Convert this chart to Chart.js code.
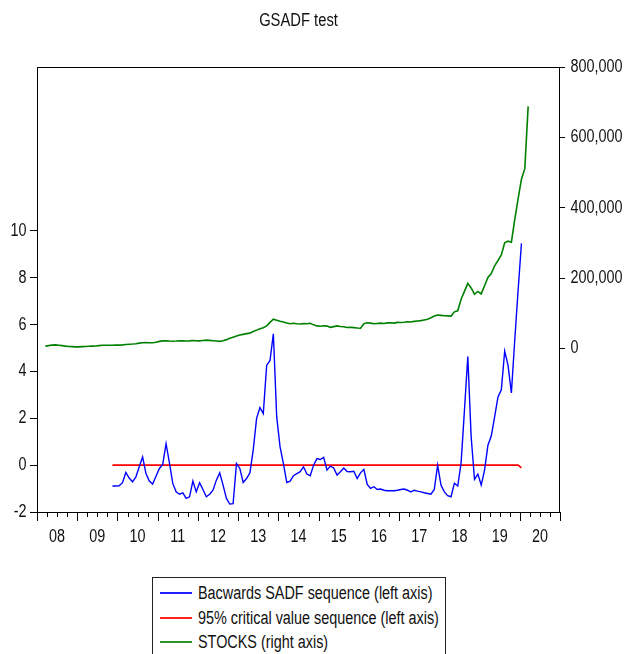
<!DOCTYPE html>
<html lang="en">
<head>
    <meta charset="UTF-8">
    <title>GSADF test</title>
    <script src="https://cdn.jsdelivr.net/npm/chart.js"></script>
</head>
<style>
  body{
    margin: 0;
    background: #fff;
  }
  .wrap{
    position: relative;
    width: 624px;
    height: 654px;
    overflow: hidden;
    font-family: "Liberation Sans", Arial, sans-serif;
    color: #111;
  }
  .titulo{
    position: absolute;
    top: 10px;
    left: 0;
    width: 597px;
    text-align: center;
    font-size: 18px;
    transform: scaleX(0.82);
  }
  .legenda{
    position: absolute;
    left: 152px;
    top: 577px;
    width: 292px;
    height: 120px;
    border: 1px solid #222;
    background: #fff;
    font-size: 18px;
  }
  .item{
    position: absolute;
    left: 0;
    height: 24.5px;
    line-height: 24.5px;
    white-space: nowrap;
  }
  .item span{
    position: absolute;
    left: 7px;
    top: 11px;
    width: 32px;
    height: 2px;
  }
  .item b{
    font-weight: normal;
    position: absolute;
    left: 45px;
    transform: scaleX(0.8);
    transform-origin: left center;
  }
</style>
<body>
  <div class="wrap">
    <canvas id="grafico" width="624" height="654"></canvas>
    <div class="titulo">GSADF test</div>
    <div class="legenda">
      <div class="item" style="top:3px"><span style="background:#2020ff"></span><b>Bacwards SADF sequence (left axis)</b></div>
      <div class="item" style="top:27.5px"><span style="background:#ff2020"></span><b>95% critical value sequence (left axis)</b></div>
      <div class="item" style="top:52px"><span style="background:#2a942a"></span><b>STOCKS (right axis)</b></div>
    </div>
  </div>

<script>
    // monthly data, first observation given as [year, month]
    const sadfStart = [2009, 11];
    const stocksStart = [2008, 3];

    const sadf = [
      -0.89, -0.89,
      -0.88, -0.75, -0.31, -0.55, -0.71, -0.50, -0.07, 0.35, -0.36, -0.68, -0.81, -0.47,
      -0.14, 0.03, 0.92, 0.10, -0.78, -1.14, -1.24, -1.18, -1.42, -1.35, -0.68, -1.14,
      -0.75, -1.04, -1.35, -1.24, -1.07, -0.64, -0.33, -0.85, -1.42, -1.66, -1.64, 0.07,
      -0.14, -0.74, -0.57, -0.33, 0.65, 2.00, 2.46, 2.20, 4.26, 4.47, 5.61, 2.06,
      0.78, 0.07, -0.74, -0.68, -0.45, -0.36, -0.28, -0.07, -0.38, -0.45, 0.00, 0.28,
      0.24, 0.33, -0.21, -0.04, -0.12, -0.42, -0.28, -0.12, -0.27, -0.28, -0.26, -0.57,
      -0.33, -0.18, -0.82, -0.99, -0.92, -1.04, -1.02, -1.07, -1.09, -1.09, -1.09, -1.07,
      -1.04, -1.02, -1.07, -1.14, -1.07, -1.11, -1.14, -1.18, -1.21, -1.24, -1.04, 0.00,
      -0.85, -1.14, -1.30, -1.35, -0.77, -0.89, 0.10, 2.34, 4.64, 1.21, -0.61, -0.38,
      -0.85, -0.21, 0.85, 1.24, 2.06, 2.91, 3.22, 4.87, 4.26, 3.08, 5.33, 7.46,
      9.47
    ];

    const critical = [
      0.00, 0.00,
      0.00, 0.00, 0.00, 0.00, 0.00, 0.00, 0.00, 0.00, 0.00, 0.00, 0.00, 0.00,
      0.00, 0.00, 0.00, 0.00, 0.00, 0.00, 0.00, 0.00, 0.00, 0.00, 0.00, 0.00,
      0.00, 0.00, 0.00, 0.00, 0.00, 0.00, 0.00, 0.00, 0.00, 0.00, 0.00, 0.00,
      0.00, 0.00, 0.00, 0.00, 0.00, 0.00, 0.00, 0.00, 0.00, 0.00, 0.00, 0.00,
      0.00, 0.00, 0.00, 0.00, 0.00, 0.00, 0.00, 0.00, 0.00, 0.00, 0.00, 0.00,
      0.00, 0.00, 0.00, 0.00, 0.00, 0.00, 0.00, 0.00, 0.00, 0.00, 0.00, 0.00,
      0.00, 0.00, 0.00, 0.00, 0.00, 0.00, 0.00, 0.00, 0.00, 0.00, 0.00, 0.00,
      0.00, 0.00, 0.00, 0.00, 0.00, 0.00, 0.00, 0.00, 0.00, 0.00, 0.00, 0.00,
      0.00, 0.00, 0.00, 0.00, 0.00, 0.00, 0.00, 0.00, 0.00, 0.00, 0.00, 0.00,
      0.00, 0.00, 0.00, 0.00, 0.00, 0.00, 0.00, 0.00, 0.00, 0.00, 0.00, 0.00,
      -0.12
    ];

    const stocks = [
      6500, 8000, 9500, 10000, 9000, 8000, 6500, 5500, 5000, 4500,
      4500, 5000, 5500, 6000, 6500, 7000, 8000, 9000, 9000, 9000, 9000, 9500,
      9500, 10000, 11000, 12000, 12500, 13500, 15000, 16000, 16500, 16000, 16000, 17500,
      20000, 21500, 22000, 21000, 20500, 21000, 22000, 21500, 21000, 21500, 22500, 22000,
      21500, 22500, 23500, 23000, 22000, 21000, 20000, 22000, 25000, 29000, 32000, 35000,
      38000, 40000, 42000, 43500, 48000, 52000, 56000, 59000, 64000, 74000, 83000, 80000,
      77000, 75000, 72000, 70000, 71500, 70000, 69500, 70500, 70000, 71500, 67000, 64000,
      63000, 64500, 63500, 60000, 62000, 64000, 62500, 61500, 59500, 60000, 59000, 58000,
      57500, 70000, 73000, 72000, 70000, 71000, 72000, 71000, 72500, 73000, 72000, 74000,
      73500, 74500, 76000, 75000, 77000, 78000, 79000, 81000, 83000, 87000, 92000, 95000,
      94000, 93000, 92500, 92000, 104000, 107000, 140000, 162000, 185000, 172000, 154000, 162000,
      155000, 178000, 202000, 213000, 235000, 250000, 266000, 300000, 305000, 302000, 366000, 425000,
      481000, 511000, 688000
    ];

    const yearLabels = ['08','09','10','11','12','13','14','15','16','17','18','19','20'];
    const leftTicks = [-2, 0, 2, 4, 6, 8, 10];
    const rightTicks = [0, 200000, 400000, 600000, 800000];

    // observation i of a series that starts at [y, m], placed mid-month
    function serie(start, values){
      return values.map((v, i) => ({
        x: start[0] + (start[1] - 1 + i + 0.5) / 12,
        y: v
      }));
    }

    // no narrow font installed: squeeze the text horizontally
    function condensado(ctx, str, x, y, align){
      ctx.save();
      ctx.translate(x, y);
      ctx.scale(0.8, 1);
      ctx.textAlign = align;
      ctx.fillText(str, 0, 0);
      ctx.restore();
    }

    // box around the plot, quarterly tick marks and the axis labels
    const moldura = {
      id: 'moldura',
      afterDraw(chart){
        const ctx = chart.ctx, a = chart.chartArea, s = chart.scales;
        ctx.save();
        ctx.strokeStyle = '#000';
        ctx.lineWidth = 1;
        ctx.strokeRect(Math.round(a.left) + 0.5, Math.round(a.top) + 0.5,
          Math.round(a.right - a.left) - 1, Math.round(a.bottom - a.top));
        ctx.beginPath();
        for (let q = 2008 * 4; q <= 2021 * 4; q++){
          const px = Math.round(s.x.getPixelForValue(q / 4)) + 0.5;
          const len = q % 4 === 0 ? 9 : 5;
          ctx.moveTo(px, a.bottom);
          ctx.lineTo(px, a.bottom + len);
        }
        ctx.stroke();

        ctx.font = '18px "Liberation Sans", Arial, sans-serif';
        ctx.fillStyle = '#111';
        ctx.textBaseline = 'middle';
        leftTicks.forEach(v => condensado(ctx, String(v), a.left - 10.5, s.y.getPixelForValue(v), 'right'));
        rightTicks.forEach(v => condensado(ctx, v.toLocaleString('en-US'), a.right + 10.5, s.y2.getPixelForValue(v), 'left'));
        yearLabels.forEach((t, i) => condensado(ctx, t, s.x.getPixelForValue(2008 + i + 0.5), a.bottom + 25, 'center'));
        ctx.restore();
      }
    };

    new Chart(document.getElementById('grafico'), {
      type: 'line',
      data: {
        datasets: [{
          label: 'Bacwards SADF sequence (left axis)',
          data: serie(sadfStart, sadf),
          borderColor: 'rgb(0,0,255)',
          borderWidth: 1.4,
          yAxisID: 'y'
        },
        {
          label: '95% critical value sequence (left axis)',
          data: serie(sadfStart, critical),
          borderColor: 'rgb(255,0,0)',
          borderWidth: 1.6,
          yAxisID: 'y'
        },
        {
          label: 'STOCKS (right axis)',
          data: serie(stocksStart, stocks),
          borderColor: 'rgb(0,128,0)',
          borderWidth: 1.6,
          yAxisID: 'y2'
        }]
      },
      options: {
        responsive: false,
        animation: false,
        devicePixelRatio: 1,
        layout: { padding: { top: 67, left: 0, right: 0, bottom: 0 } },
        elements: { point: { radius: 0 }, line: { tension: 0 } },
        plugins: {
          legend: { display: false },
          tooltip: { enabled: false }
        },
        scales: {
          x: {
            type: 'linear',
            position: 'bottom',
            min: 2008,
            max: 2021,
            grid: { display: false, drawTicks: false },
            border: { display: false },
            afterFit: s => { s.height = 142; },
            ticks: { display: false }
          },
          y: {
            position: 'left',
            min: -2,
            max: 17,
            grid: { drawOnChartArea: false, tickLength: 7, color: '#000' },
            border: { display: false },
            afterBuildTicks: s => { s.ticks = leftTicks.map(v => ({ value: v })); },
            afterFit: s => { s.width = 37; },
            ticks: { display: false }
          },
          y2: {
            position: 'right',
            min: -465000,
            max: 800000,
            grid: { drawOnChartArea: false, tickLength: 5, color: '#000' },
            border: { display: false },
            afterBuildTicks: s => { s.ticks = rightTicks.map(v => ({ value: v })); },
            afterFit: s => { s.width = 64; },
            ticks: { display: false }
          }
        }
      },
      plugins: [moldura]
    });
</script>
</body>
</html>
